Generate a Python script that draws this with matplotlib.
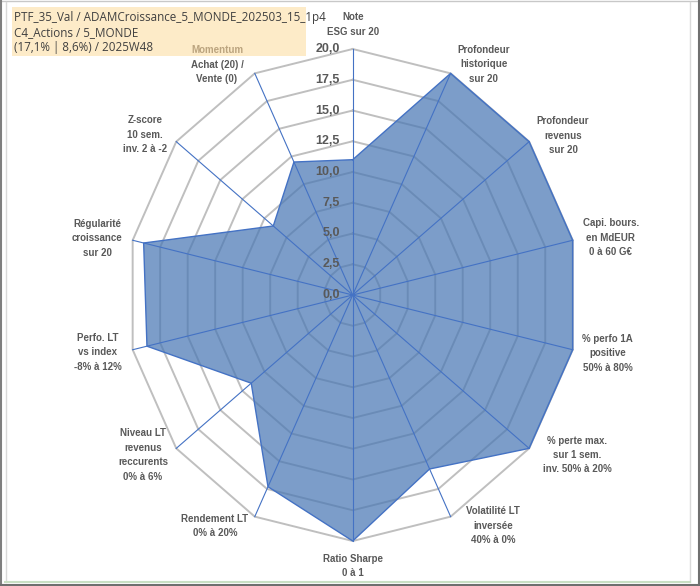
import numpy as np
import matplotlib
matplotlib.use("Agg")
import matplotlib.pyplot as plt
from matplotlib.transforms import offset_copy
from matplotlib.patches import Rectangle
from matplotlib.lines import Line2D

# ---- data ----
categories = [
    "Note\nESG sur 20",
    "Profondeur\nhistorique\nsur 20",
    "Profondeur\nrevenus\nsur 20",
    "Capi. bours.\nen MdEUR\n0 à 60 G€",
    "% perfo 1A\npositive\n50% à 80%",
    "% perte max.\nsur 1 sem.\ninv. 50% à 20%",
    "Volatilité LT\ninversée\n40% à 0%",
    "Ratio Sharpe\n0 à 1",
    "Rendement LT\n0% à 20%",
    "Niveau LT\nrevenus\nreccurents\n0% à 6%",
    "Perfo. LT\nvs index\n-8% à 12%",
    "Régularité\ncroissance\nsur 20",
    "Z-score\n10 sem.\ninv. 2 à -2",
    "Momentum\nAchat (20) /\nVente (0)",
]
values = [11.0, 20.0, 20.0, 20.0, 20.0, 20.0, 15.7, 20.0, 17.3, 11.5, 18.7, 19.0, 9.0, 12.0]
rings = [2.5, 5.0, 7.5, 10.0, 12.5, 15.0, 17.5, 20.0]
tick_values = [0.0, 2.5, 5.0, 7.5, 10.0, 12.5, 15.0, 17.5, 20.0]
tick_labels = ["0,0", "2,5", "5,0", "7,5", "10,0", "12,5", "15,0", "17,5", "20,0"]
title_lines = ["PTF_35_Val / ADAMCroissance_5_MONDE_202503_15_1p4",
               "C4_Actions / 5_MONDE",
               "(17,1% | 8,6%) / 2025W48"]

# label placement (layout): angle in degrees, radius in data units
label_theta = [0, 31.8, 55.2, 78.5, 101.8, 123.2, 146.5, 180, 213.0, 235.0, 258.3, 281.5, 305.3, 327.3]
label_r = [21.99, 22.06, 22.7, 23.35, 23.1, 23.75, 22.5, 22.03, 22.4, 22.68, 23.05, 23.12, 22.53, 22.26]

W, H = 700, 586
fig = plt.figure(figsize=(7.0, 5.86), dpi=100)
fig.patch.set_facecolor("white")

def fx(x): return x / W
def fy(y): return 1 - y / H

# title box (below the chart)
fig.add_artist(Rectangle((fx(12), fy(56)), (306 - 12) / W, (56 - 7) / H,
                         transform=fig.transFigure, facecolor="#FDEBC8", edgecolor="none", zorder=-1))

cx, cy, rx, ry = 352.7, 295.0, 225.7, 246.0
ax = fig.add_axes([(cx - rx) / W, (H - cy - ry) / H, 2 * rx / W, 2 * ry / H], projection="polar")
ax.set_aspect("auto")
ax.set_theta_zero_location("N")
ax.set_theta_direction(-1)
ax.set_ylim(0, 20)
ax.set_axis_off()

n = len(categories)
theta = np.arange(n) * 2 * np.pi / n
theta_closed = np.append(theta, theta[0])

grid_col = "#BFBFBF"
for r in rings:
    ax.plot(theta_closed, [r] * (n + 1), color=grid_col, lw=1.4, zorder=1, clip_on=False)

vals_closed = np.append(values, values[0])
ax.fill(theta_closed, vals_closed, facecolor="#4A78B4", alpha=0.72, edgecolor="none", zorder=2, clip_on=False)
ax.plot(theta_closed, vals_closed, color="#4472C4", lw=1.0, zorder=4, clip_on=False)

for t in theta:
    ax.plot([t, t], [0, 20], color="#4472C4", lw=0.8, zorder=3, clip_on=False)

fam = ["Liberation Sans", "DejaVu Sans"]
tr = offset_copy(ax.transData, fig=fig, x=-13, y=0, units="dots")
for v, s in zip(tick_values, tick_labels):
    ax.text(0, v, s, transform=tr, ha="right", va="center", fontsize=9,
            fontweight="bold", color="#595959", family=fam, zorder=5)

for i, (lab, tdeg, rr) in enumerate(zip(categories, label_theta, label_r)):
    if i == n - 1:
        first, rest = lab.split("\n", 1)
        ax.text(np.deg2rad(tdeg), rr, "\n" + rest, ha="center", va="center", fontsize=7,
                fontweight="bold", color="#595959", linespacing=1.55, family=fam, zorder=5)
        ax.text(np.deg2rad(tdeg), rr, first + "\n\n", ha="center", va="center", fontsize=7,
                fontweight="bold", color="#BBA47F", linespacing=1.55, family=fam, zorder=5)
    else:
        ax.text(np.deg2rad(tdeg), rr, lab, ha="center", va="center", fontsize=7,
                fontweight="bold", color="#595959", linespacing=1.55, family=fam, zorder=5)

for k, line in enumerate(title_lines):
    fig.text(fx(14), fy(17.5 + 15 * k), line, ha="left", va="center", fontsize=8.4,
             color="#404040", family=["Liberation Sans Narrow", "Open Sans", "DejaVu Sans"])

# frame lines
def hline(y, x0, x1, c, lw):
    fig.add_artist(Line2D([fx(x0), fx(x1)], [fy(y), fy(y)], transform=fig.transFigure, color=c, lw=lw))
def vline(x, y0, y1, c, lw):
    fig.add_artist(Line2D([fx(x), fx(x)], [fy(y0), fy(y1)], transform=fig.transFigure, color=c, lw=lw))

hline(1, 0, 700, "#C8C8C8", 1.0)
vline(1, 0, 586, "#7F7F7F", 1.5)
vline(5.5, 2, 582, "#D9D9D9", 1.0)
vline(690, 2, 582, "#D9D9D9", 1.0)
hline(581.5, 5, 690, "#C9DFC4", 1.5)
hline(585, 0, 700, "#6F6F6F", 1.5)
vline(698.5, 0, 586, "#6F6F6F", 1.5)

fig.savefig("out.png", dpi=100)
